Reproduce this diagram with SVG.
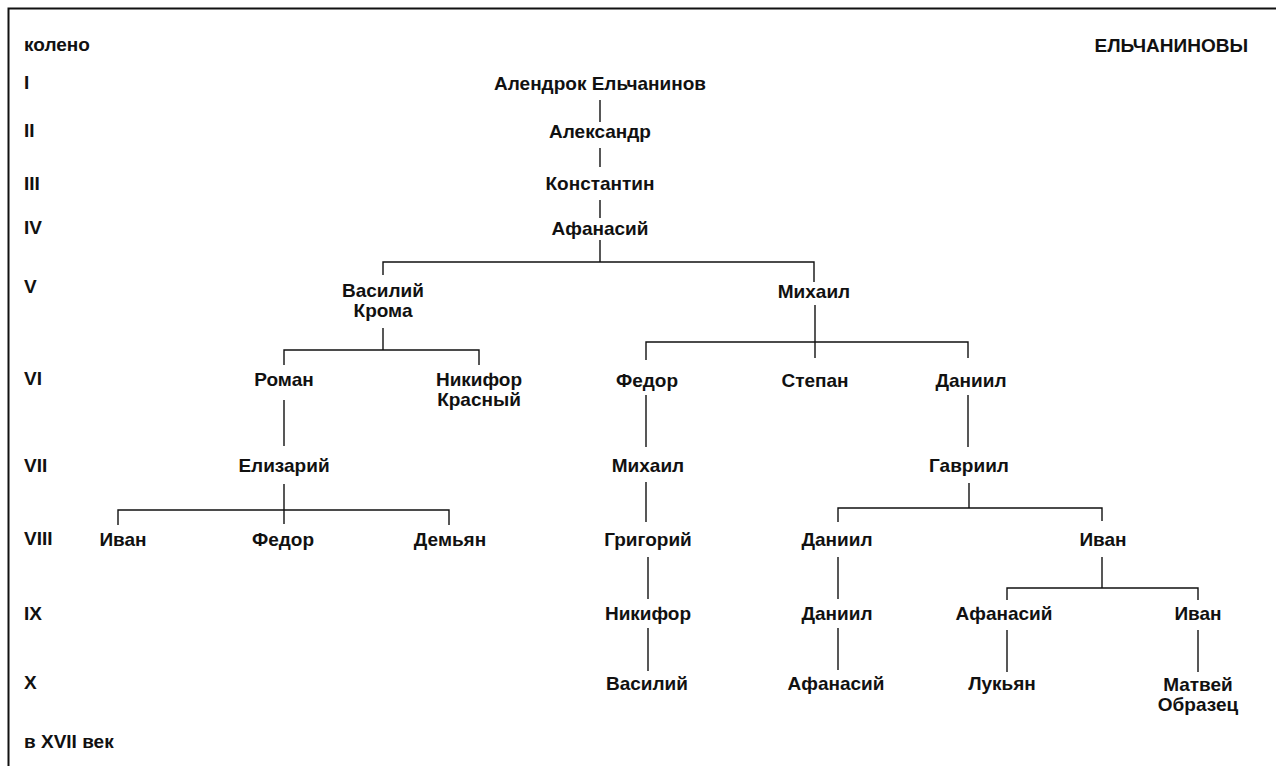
<svg xmlns="http://www.w3.org/2000/svg" width="1276" height="766" viewBox="0 0 1276 766">
<style>
text{font-family:"Liberation Sans",Arial,sans-serif;font-size:19px;font-weight:bold;fill:#111}
.n text{text-anchor:middle}
.lab{text-anchor:start}
#connectors line,#connectors path{stroke:#111;stroke-width:1.4;fill:none}
.frame{stroke:#111;stroke-width:2;fill:none}
</style>
<rect width="1276" height="766" fill="#fff"/>
<path class="frame" d="M8.5,766 V8.5 H1276"/>
<g id="labels">
<text class="lab" x="24" y="51">колено</text>
<text x="1248" y="52" text-anchor="end">ЕЛЬЧАНИНОВЫ</text>
<text class="lab" x="24" y="89">I</text>
<text class="lab" x="24" y="137">II</text>
<text class="lab" x="24" y="190">III</text>
<text class="lab" x="24" y="234">IV</text>
<text class="lab" x="24" y="293">V</text>
<text class="lab" x="24" y="385">VI</text>
<text class="lab" x="24" y="472">VII</text>
<text class="lab" x="24" y="545">VIII</text>
<text class="lab" x="24" y="620">IX</text>
<text class="lab" x="24" y="689">X</text>
<text class="lab" x="24" y="748">в XVII век</text>
</g>
<g id="connectors">
<line x1="600" y1="100" x2="600" y2="122"/>
<line x1="600" y1="148" x2="600" y2="167"/>
<line x1="600" y1="200" x2="600" y2="218"/>
<line x1="600" y1="240" x2="600" y2="262"/>
<path d="M383,275 V262 H814 V282"/>
<line x1="383" y1="328" x2="383" y2="350"/>
<path d="M284,365 V350 H479 V365"/>
<line x1="284" y1="400" x2="284" y2="446"/>
<line x1="284" y1="484" x2="284" y2="524"/>
<path d="M118,525 V510 H449 V525"/>
<line x1="815" y1="305" x2="815" y2="358"/>
<path d="M646,360 V342 H968 V358"/>
<line x1="646" y1="395" x2="646" y2="447"/>
<line x1="968" y1="395" x2="968" y2="447"/>
<line x1="646" y1="482" x2="646" y2="522"/>
<line x1="969" y1="483" x2="969" y2="508"/>
<path d="M838,522 V508 H1102 V521"/>
<line x1="1102" y1="557" x2="1102" y2="588"/>
<path d="M1007,600 V588 H1198 V600"/>
<line x1="648" y1="557" x2="648" y2="599"/>
<line x1="648" y1="628" x2="648" y2="671"/>
<line x1="838" y1="557" x2="838" y2="599"/>
<line x1="838" y1="628" x2="838" y2="670"/>
<line x1="1007" y1="630" x2="1007" y2="672"/>
<line x1="1198" y1="630" x2="1198" y2="672"/>
</g>
<g class="n" id="n1"><text x="600" y="90">Алендрок Ельчанинов</text></g>
<g class="n" id="n2"><text x="600" y="138">Александр</text></g>
<g class="n" id="n3"><text x="600" y="190">Константин</text></g>
<g class="n" id="n4"><text x="600" y="235">Афанасий</text></g>
<g class="n" id="n5a"><text x="383" y="297">Василий</text><text x="383" y="317">Крома</text></g>
<g class="n" id="n5b"><text x="814" y="298">Михаил</text></g>
<g class="n" id="n6a"><text x="284" y="386">Роман</text></g>
<g class="n" id="n6b"><text x="479" y="386">Никифор</text><text x="479" y="406">Красный</text></g>
<g class="n" id="n6c"><text x="647" y="387">Федор</text></g>
<g class="n" id="n6d"><text x="815" y="387">Степан</text></g>
<g class="n" id="n6e"><text x="971" y="387">Даниил</text></g>
<g class="n" id="n7a"><text x="284" y="472">Елизарий</text></g>
<g class="n" id="n7b"><text x="648" y="472">Михаил</text></g>
<g class="n" id="n7c"><text x="969" y="472">Гавриил</text></g>
<g class="n" id="n8a"><text x="123" y="546">Иван</text></g>
<g class="n" id="n8b"><text x="283" y="546">Федор</text></g>
<g class="n" id="n8c"><text x="450" y="546">Демьян</text></g>
<g class="n" id="n8d"><text x="648" y="546">Григорий</text></g>
<g class="n" id="n8e"><text x="837" y="546">Даниил</text></g>
<g class="n" id="n8f"><text x="1103" y="546">Иван</text></g>
<g class="n" id="n9a"><text x="648" y="620">Никифор</text></g>
<g class="n" id="n9b"><text x="837" y="620">Даниил</text></g>
<g class="n" id="n9c"><text x="1004" y="620">Афанасий</text></g>
<g class="n" id="n9d"><text x="1198" y="620">Иван</text></g>
<g class="n" id="n10a"><text x="647" y="690">Василий</text></g>
<g class="n" id="n10b"><text x="836" y="690">Афанасий</text></g>
<g class="n" id="n10c"><text x="1002" y="690">Лукьян</text></g>
<g class="n" id="n10d"><text x="1198" y="691">Матвей</text><text x="1198" y="711">Образец</text></g>
</svg>
